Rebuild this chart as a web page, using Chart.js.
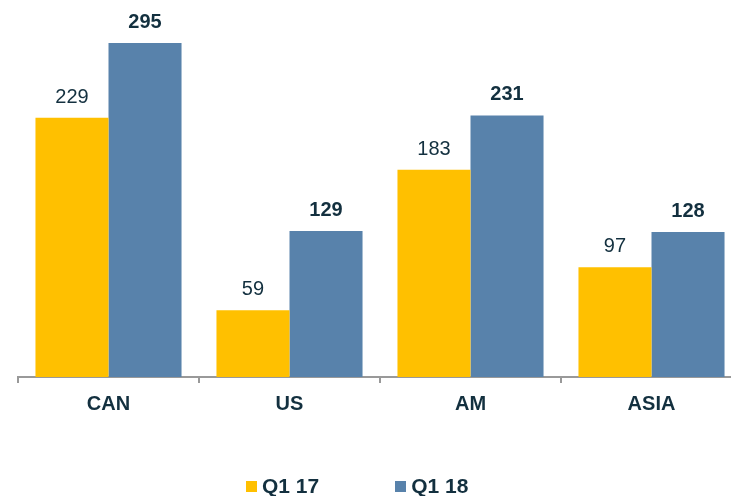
<!DOCTYPE html>
<html>
<head>
<meta charset="utf-8">
<script src="https://cdn.jsdelivr.net/npm/chart.js@4/dist/chart.umd.min.js"></script>
<style>
  body { margin: 0; overflow: hidden; background: #fff; font-family: "Liberation Sans", Arial, sans-serif; }
  #wrap { position: relative; width: 731px; height: 496px; overflow: hidden; }
  #legend { position: absolute; top: 474px; left: 246px; display: flex; }
  .item { display: flex; align-items: center; font-weight: bold; font-size: 21px; color: #13303f; margin-right: 76px; }
  .box { width: 11px; height: 11px; margin-right: 5px; }
</style>
</head>
<body>
<div id="wrap">
  <canvas id="chart" width="742" height="496"></canvas>
  <div id="legend"></div>
</div>
<script>
const categories = ['CAN', 'US', 'AM', 'ASIA'];
const q117 = [229, 59, 183, 97];
const q118 = [295, 129, 231, 128];
const seriesLabels = ['Q1 17', 'Q1 18'];
const seriesColors = ['#FFC000', '#5882AB'];

const textColor = '#13303f';

// value labels above each bar
const valueLabels = {
  id: 'valueLabels',
  afterDatasetsDraw(chart) {
    const ctx = chart.ctx;
    ctx.save();
    ctx.fillStyle = textColor;
    ctx.textAlign = 'center';
    ctx.textBaseline = 'alphabetic';
    chart.data.datasets.forEach((ds, i) => {
      ctx.font = (i === 1 ? 'bold ' : '') + '20px "Liberation Sans", Arial, sans-serif';
      chart.getDatasetMeta(i).data.forEach((bar, j) => {
        ctx.fillText(ds.data[j], bar.x, bar.y - 15);
      });
    });
    ctx.restore();
  }
};

const chart = new Chart(document.getElementById('chart'), {
  type: 'bar',
  data: {
    labels: categories,
    datasets: [
      { label: seriesLabels[0], data: q117, backgroundColor: seriesColors[0] },
      { label: seriesLabels[1], data: q118, backgroundColor: seriesColors[1] }
    ]
  },
  options: {
    responsive: false,
    animation: false,
    categoryPercentage: 0.807,
    barPercentage: 1.0,
    layout: { padding: { left: 18, right: 0, top: 0, bottom: 0 } },
    plugins: {
      legend: { display: false },
      tooltip: { enabled: false }
    },
    scales: {
      y: { display: false, min: 0, max: 333 },
      x: {
        afterFit(scale) { scale.height = 119; },
        border: { display: true, color: '#999', width: 2 },
        grid: { offset: true, drawOnChartArea: false, drawTicks: true, tickLength: 6, color: '#999', lineWidth: 2 },
        ticks: {
          color: textColor,
          padding: 9,
          font: { family: '"Liberation Sans", Arial, sans-serif', size: 20, weight: 'bold' }
        }
      }
    }
  },
  plugins: [valueLabels]
});

const legend = document.getElementById('legend');
seriesLabels.forEach((lab, i) => {
  const item = document.createElement('div');
  item.className = 'item';
  item.innerHTML = `<span class="box" style="background:${seriesColors[i]}"></span>${lab}`;
  legend.appendChild(item);
});
</script>
</body>
</html>
